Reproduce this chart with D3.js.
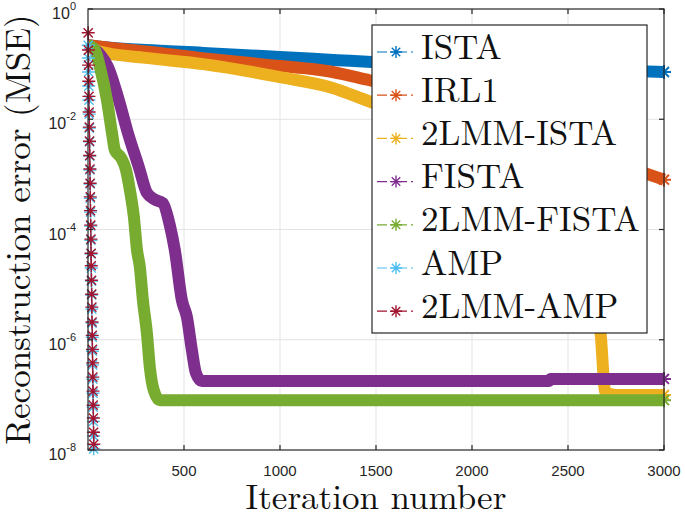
<!DOCTYPE html>
<html>
<head>
<meta charset="utf-8">
<script src="https://cdn.jsdelivr.net/npm/d3@7"></script>
<style>
  body { margin: 0; background: #fff; }
</style>
</head>
<body>
<svg id="chart" width="685" height="515"></svg>
<script>
// series (iteration, MSE)
var seriesNames = ['ISTA', 'IRL1', '2LMM-ISTA', 'FISTA', '2LMM-FISTA', 'AMP', '2LMM-AMP'];
var seriesColors = ['#0072BD', '#D95319', '#EDB120', '#7E2F8E', '#77AC30', '#4DBEEE', '#A2142F'];

var istaIter = [1, 100, 300, 600, 1000, 1300, 1500, 2000, 2500, 3000];
var istaMSE = [0.22, 0.2, 0.18, 0.16, 0.135, 0.118, 0.108, 0.094, 0.082, 0.072];

var irl1Iter = [1, 100, 300, 582, 900, 1274, 1466, 1800, 2200, 2600, 2900, 3000];
var irl1MSE = [0.22, 0.2, 0.17, 0.13, 0.1, 0.072, 0.051, 0.028, 0.01, 0.003, 0.00105, 0.0008];

var lmmIstaIter = [1, 60, 300, 600, 1000, 1274, 1466, 1800, 2200, 2500, 2640, 2670, 2695, 2750, 3000];
var lmmIstaMSE = [0.22, 0.17, 0.13, 0.1, 0.058, 0.037, 0.021, 0.0085, 0.0015, 1.5e-4, 1e-5, 1.3e-6, 1.1e-7, 1.0e-7, 1.0e-7];

var fistaIter = [1, 62, 104, 161, 208, 265, 307, 348, 390, 426, 452, 489, 515, 541, 562, 593, 1000, 2400, 2410, 3000];
var fistaMSE = [0.22, 0.15, 0.089, 0.022, 5.6e-3, 1.35e-3, 4.6e-4, 3.5e-4, 3.0e-4, 1.2e-4, 4.3e-5, 5.2e-6, 2.6e-6, 6.5e-7, 2.5e-7, 1.78e-7, 1.78e-7, 1.78e-7, 1.95e-7, 1.95e-7];

var lmmFistaIter = [1, 36, 62, 99, 125, 140, 172, 198, 218, 239, 255, 270, 286, 307, 322, 343, 374, 3000];
var lmmFistaMSE = [0.22, 0.18, 0.089, 0.022, 5.6e-3, 2.75e-3, 2.0e-3, 1.2e-3, 5.2e-4, 1.7e-4, 4.3e-5, 2.1e-5, 5.2e-6, 1.3e-6, 3.2e-7, 1.2e-7, 8e-8, 8e-8];

var ampIter = [1, 2, 3, 4, 5, 6, 7, 8, 9, 10, 11, 12, 13, 14, 15, 16, 17, 18, 19, 20, 21, 22, 23, 24, 25, 26, 27, 28, 29, 30];
var ampMSE = [0.22, 0.129, 0.072, 0.040, 0.0223, 0.0124, 6.9e-3, 3.9e-3, 2.15e-3, 1.2e-3, 6.7e-4, 3.7e-4, 2.07e-4, 1.15e-4, 6.4e-5,
              3.6e-5, 2.0e-5, 1.16e-5, 6.5e-6, 3.6e-6, 2.0e-6, 1.11e-6, 6.2e-7, 3.5e-7, 1.93e-7, 1.07e-7, 6.0e-8, 3.3e-8, 1.8e-8, 1.05e-8];

var lmmAmpIter = [1, 2, 3, 4, 5, 6, 7, 8, 9, 10, 11, 12, 13, 14, 15, 16, 17, 18, 19, 20, 21, 22, 23, 24, 25, 26, 27, 28, 29, 30];
var lmmAmpMSE = [0.37, 0.18, 0.096, 0.049, 0.026, 0.0135, 7.2e-3, 4.0e-3, 2.2e-3, 1.25e-3, 6.9e-4, 3.9e-4, 2.2e-4, 1.2e-4, 6.7e-5,
                 3.7e-5, 2.2e-5, 1.2e-5, 6.7e-6, 3.9e-6, 2.1e-6, 1.2e-6, 6.7e-7, 3.8e-7, 2.1e-7, 1.17e-7, 6.5e-8, 3.8e-8, 2.1e-8, 1.27e-8];

var xTicks = [500, 1000, 1500, 2000, 2500, 3000];
var yTicks = [1, 1e-2, 1e-4, 1e-6, 1e-8];
var yTickExp = ['0', '-2', '-4', '-6', '-8'];

var seriesIter = [istaIter, irl1Iter, lmmIstaIter, fistaIter, lmmFistaIter, ampIter, lmmAmpIter];
var seriesMSE = [istaMSE, irl1MSE, lmmIstaMSE, fistaMSE, lmmFistaMSE, ampMSE, lmmAmpMSE];

var margin = { top: 9, right: 21, bottom: 65, left: 88 },
    width = 685,
    height = 515,
    axisColor = '#262626',
    sansFont = '"Liberation Sans", Arial, Helvetica, sans-serif',
    texFont = '"Latin Modern Roman"';

var x = d3.scaleLinear().domain([0, 3000]).range([margin.left, width - margin.right]);
var y = d3.scaleLog().domain([1e-8, 1]).range([height - margin.bottom, margin.top]);

var svg = d3.select('#chart');
svg.append('rect').attr('width', width).attr('height', height).attr('fill', '#fff');

// grid
var grid = svg.append('g').attr('stroke', '#e3e3e3').attr('stroke-width', 1);
grid.selectAll('.gx').data(xTicks.slice(0, -1)).enter().append('line')
    .attr('x1', function (d) { return x(d); }).attr('x2', function (d) { return x(d); })
    .attr('y1', y(1)).attr('y2', y(1e-8));
grid.selectAll('.gy').data(yTicks.slice(1, -1)).enter().append('line')
    .attr('y1', function (d) { return y(d); }).attr('y2', function (d) { return y(d); })
    .attr('x1', x(0)).attr('x2', x(3000));

svg.append('clipPath').attr('id', 'clip')
    .append('rect').attr('x', 80).attr('y', 0).attr('width', 596).attr('height', 458);

var asterisk = function (r) {
    var d = r * 0.7071;
    return 'M' + (-r) + ',0L' + r + ',0M0,' + (-r) + 'L0,' + r +
        'M' + (-d) + ',' + (-d) + 'L' + d + ',' + d + 'M' + (-d) + ',' + d + 'L' + d + ',' + (-d);
};

var bandLine = d3.line()
    .curve(d3.curveMonotoneX)
    .x(function (d) { return x(d[0]); })
    .y(function (d) { return y(d[1]); });

var thinLine = d3.line()
    .x(function (d) { return x(d[0]); })
    .y(function (d) { return y(d[1]); });

var plot = svg.append('g').attr('clip-path', 'url(#clip)');

seriesNames.forEach(function (name, i) {
    var pts = seriesIter[i].map(function (it, k) { return [it, seriesMSE[i][k]]; });
    var g = plot.append('g');
    var isAmp = i >= 5;
    g.append('path')
        .datum(pts)
        .attr('d', isAmp ? thinLine : bandLine)
        .attr('fill', 'none')
        .attr('stroke', seriesColors[i])
        .attr('stroke-width', isAmp ? 1.2 : 12)
        .attr('stroke-linejoin', 'round')
        .attr('stroke-dasharray', isAmp ? '8,3,2,3' : null);
    // markers: every point for AMP runs, end point for the dense bands
    var marks = isAmp ? pts : [pts[pts.length - 1]];
    g.selectAll('path.m').data(marks).enter().append('path')
        .attr('class', 'm')
        .attr('transform', function (d) { return 'translate(' + x(d[0]) + ',' + y(d[1]) + ')'; })
        .attr('d', asterisk(isAmp ? 6.5 : 7))
        .attr('fill', 'none')
        .attr('stroke', seriesColors[i])
        .attr('stroke-width', isAmp ? 1.4 : 2);
});

// axes box with inward ticks
var axes = svg.append('g').attr('stroke', axisColor).attr('stroke-width', 1.2);
axes.append('rect')
    .attr('x', x(0)).attr('y', y(1))
    .attr('width', x(3000) - x(0)).attr('height', y(1e-8) - y(1))
    .attr('fill', 'none');
xTicks.forEach(function (t) {
    axes.append('line').attr('x1', x(t)).attr('x2', x(t)).attr('y1', y(1e-8)).attr('y2', y(1e-8) - 5);
    axes.append('line').attr('x1', x(t)).attr('x2', x(t)).attr('y1', y(1)).attr('y2', y(1) + 5);
});
yTicks.forEach(function (t) {
    axes.append('line').attr('y1', y(t)).attr('y2', y(t)).attr('x1', x(0)).attr('x2', x(0) + 5);
    axes.append('line').attr('y1', y(t)).attr('y2', y(t)).attr('x1', x(3000)).attr('x2', x(3000) - 5);
});

svg.selectAll('.xt').data(xTicks).enter().append('text')
    .attr('x', function (d) { return x(d); })
    .attr('y', 476)
    .attr('text-anchor', 'middle')
    .style('font-family', sansFont)
    .attr('font-size', 15)
    .attr('fill', axisColor)
    .text(function (d) { return d; });

var yt = svg.selectAll('.yt').data(yTicks).enter().append('text')
    .attr('x', 76)
    .attr('y', function (d) { return y(d) + 10; })
    .attr('text-anchor', 'end')
    .style('font-family', sansFont)
    .attr('font-size', 16)
    .attr('fill', axisColor);
yt.append('tspan').text('10');
yt.append('tspan').attr('dy', -9).attr('font-size', 11).text(function (d, i) { return yTickExp[i]; });

svg.append('text')
    .attr('x', (x(0) + x(3000)) / 2).attr('y', 509)
    .attr('text-anchor', 'middle')
    .style('font-family', texFont)
    .attr('font-size', 35).attr('fill', '#111')
    .text('Iteration number');

svg.append('text')
    .attr('transform', 'translate(30,' + (y(1) + y(1e-8)) / 2 + ') rotate(-90)')
    .attr('text-anchor', 'middle')
    .style('font-family', texFont)
    .attr('font-size', 35).attr('fill', '#111')
    .text('Reconstruction error (MSE)');

// legend
var legend = svg.append('g');
legend.append('rect')
    .attr('x', 372).attr('y', 25).attr('width', 275).attr('height', 308)
    .attr('fill', '#fff').attr('stroke', axisColor).attr('stroke-width', 1.2);
var rows = legend.selectAll('.row').data(seriesNames).enter().append('g')
    .attr('transform', function (d, i) { return 'translate(0,' + (52 + i * 43.2) + ')'; });
rows.append('line')
    .attr('x1', 377).attr('x2', 415).attr('y1', 0).attr('y2', 0)
    .attr('stroke', function (d, i) { return seriesColors[i]; })
    .attr('stroke-width', 1.2)
    .attr('stroke-dasharray', '10,4,2,4');
rows.append('path')
    .attr('transform', 'translate(396,0)')
    .attr('d', asterisk(6))
    .attr('fill', 'none')
    .attr('stroke', function (d, i) { return seriesColors[i]; })
    .attr('stroke-width', 1.4);
rows.append('text')
    .attr('x', 421).attr('y', 6.5)
    .style('font-family', texFont)
    .attr('font-size', 35).attr('fill', '#111')
    .text(function (d) { return d; });
</script>
</body>
</html>
